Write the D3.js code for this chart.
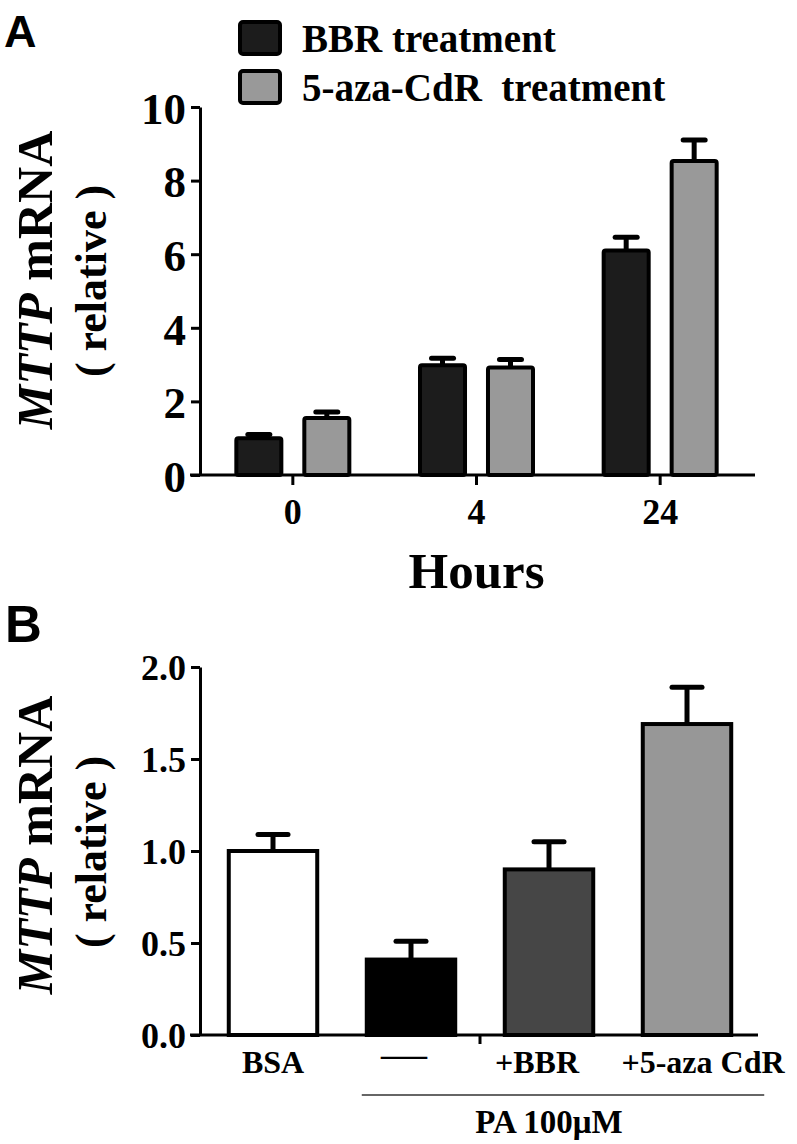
<!DOCTYPE html>
<html>
<head>
<meta charset="utf-8">
<script src="https://cdn.jsdelivr.net/npm/d3@7"></script>
<style>
  body { margin: 0; background: #fff; }
  svg text { font-family: "Liberation Serif", "Times New Roman", serif; font-weight: bold; fill: #000; }
  .panel-letter { font-family: "Liberation Sans", Arial, sans-serif !important; }
</style>
</head>
<body>
<div id="chart"></div>
<script>
// Panel A data
const hours = ["0", "4", "24"];
const seriesA = ["BBR treatment", "5-aza-CdR  treatment"];
const bbrValues = [1.0, 2.98, 6.1];
const bbrErrors = [0.1, 0.19, 0.36];
const azaValues = [1.55, 2.92, 8.53];
const azaErrors = [0.16, 0.22, 0.57];
const ticksA = [0, 2, 4, 6, 8, 10];

// Panel B data
const groupsB = ["BSA", "—", "+BBR", "+5-aza CdR"];
const valuesB = [1.0, 0.41, 0.90, 1.69];
const errorsB = [0.09, 0.10, 0.15, 0.20];
const ticksB = [0, 0.5, 1.0, 1.5, 2.0];

const colsA = ["#1c1c1c", "#999999"];
const colsB = ["#ffffff", "#000000", "#464646", "#979797"];
// small horizontal nudges of the B tick labels, as in the original figure
const labelShiftB = [0, -7, -12, 16];

const W = 797, H = 1144;
const svg = d3.select("#chart").append("svg")
  .attr("width", W).attr("height", H);

// ---------------- Panel A ----------------
const gA = svg.append("g");
const yA = d3.scaleLinear().domain([0, 10]).range([475, 107]);
const xA = d3.scaleBand().domain(hours).range([201, 752]);
const xInner = d3.scaleBand().domain([0, 1]).range([xA.bandwidth() / 2 - 58.5, xA.bandwidth() / 2 + 58.5]).paddingInner(0.279);

const dataA = [];
hours.forEach((h, i) => {
  dataA.push({h: h, s: 0, v: bbrValues[i], e: bbrErrors[i]});
  dataA.push({h: h, s: 1, v: azaValues[i], e: azaErrors[i]});
});

// error bars (upper only)
const errA = gA.append("g").selectAll("g").data(dataA).enter().append("g");
errA.append("line")
  .attr("x1", d => xA(d.h) + xInner(d.s) + xInner.bandwidth() / 2)
  .attr("x2", d => xA(d.h) + xInner(d.s) + xInner.bandwidth() / 2)
  .attr("y1", d => yA(d.v)).attr("y2", d => yA(d.v + d.e))
  .attr("stroke", "#000").attr("stroke-width", 5);
errA.append("line")
  .attr("x1", d => xA(d.h) + xInner(d.s) + xInner.bandwidth() / 2 - 11)
  .attr("x2", d => xA(d.h) + xInner(d.s) + xInner.bandwidth() / 2 + 11)
  .attr("y1", d => yA(d.v + d.e)).attr("y2", d => yA(d.v + d.e))
  .attr("stroke", "#000").attr("stroke-width", 5).attr("stroke-linecap", "round");

gA.append("g").selectAll("rect").data(dataA).enter().append("rect")
  .attr("x", d => xA(d.h) + xInner(d.s) + 2)
  .attr("y", d => yA(d.v))
  .attr("width", xInner.bandwidth() - 4)
  .attr("height", d => yA(0) - yA(d.v))
  .attr("fill", d => colsA[d.s])
  .attr("stroke", "#000").attr("stroke-width", 4)
  .attr("rx", 2);

// y axis A
const yAxisA = gA.append("g").attr("transform", "translate(200,0)")
  .call(d3.axisLeft(yA).tickValues(ticksA).tickSize(9).tickSizeOuter(0).tickPadding(5));
yAxisA.select(".domain").attr("stroke-width", 3);
yAxisA.selectAll(".tick line").attr("stroke-width", 3);
yAxisA.selectAll("text").style("font-size", "45px").attr("dy", "0.36em");

// x axis A
const xAxisA = gA.append("g").attr("transform", "translate(0,475)")
  .call(d3.axisBottom(xA).tickSize(10).tickSizeOuter(0).tickPadding(13));
xAxisA.select(".domain").remove();
xAxisA.selectAll(".tick line").attr("stroke-width", 3);
xAxisA.selectAll("text").style("font-size", "36px");
gA.append("line").attr("x1", 190).attr("x2", xA.range()[1] + 3)
  .attr("y1", yA(0)).attr("y2", yA(0))
  .attr("stroke", "#000").attr("stroke-width", 3);

gA.append("text").attr("x", (xA.range()[0] + xA.range()[1]) / 2).attr("y", 588)
  .attr("text-anchor", "middle").style("font-size", "51px").text("Hours");

// y label A
const labA = gA.append("text").attr("text-anchor", "middle")
  .attr("transform", "translate(52,280) rotate(-90)").style("font-size", "50px");
labA.append("tspan").style("font-style", "italic").text("MTTP");
labA.append("tspan").text(" mRNA");
gA.append("text").attr("text-anchor", "middle")
  .attr("transform", "translate(106,281) rotate(-90)").style("font-size", "44px")
  .text("( relative )");

// legend
const leg = gA.append("g").selectAll("g").data(seriesA).enter().append("g")
  .attr("transform", (d, i) => "translate(240," + (22 + i * 49) + ")");
leg.append("rect").attr("width", 40).attr("height", 32).attr("rx", 3)
  .attr("fill", (d, i) => colsA[i]).attr("stroke", "#000").attr("stroke-width", 4);
leg.append("text").attr("x", 62).attr("y", 30).style("font-size", "39px")
  .style("white-space", "pre").text(d => d);

gA.append("text").attr("class", "panel-letter").attr("x", 4).attr("y", 47)
  .style("font-size", "45px").text("A");

// ---------------- Panel B ----------------
const gB = svg.append("g");
const yB = d3.scaleLinear().domain([0, 2]).range([1035, 667]);
const xB = d3.scaleBand().domain(groupsB).range([204, 756]).paddingInner(0.33).paddingOuter(0.165);

const dataB = groupsB.map((g, i) => ({g: g, i: i, v: valuesB[i], e: errorsB[i]}));

const errB = gB.append("g").selectAll("g").data(dataB).enter().append("g");
errB.append("line")
  .attr("x1", d => xB(d.g) + xB.bandwidth() / 2).attr("x2", d => xB(d.g) + xB.bandwidth() / 2)
  .attr("y1", d => yB(d.v)).attr("y2", d => yB(d.v + d.e))
  .attr("stroke", "#000").attr("stroke-width", 5);
errB.append("line")
  .attr("x1", d => xB(d.g) + xB.bandwidth() / 2 - 15).attr("x2", d => xB(d.g) + xB.bandwidth() / 2 + 15)
  .attr("y1", d => yB(d.v + d.e)).attr("y2", d => yB(d.v + d.e))
  .attr("stroke", "#000").attr("stroke-width", 5).attr("stroke-linecap", "round");

gB.append("g").selectAll("rect").data(dataB).enter().append("rect")
  .attr("x", d => xB(d.g) + 2)
  .attr("y", d => yB(d.v))
  .attr("width", xB.bandwidth() - 4)
  .attr("height", d => yB(0) - yB(d.v))
  .attr("fill", d => colsB[d.i])
  .attr("stroke", "#000").attr("stroke-width", 4);

const yAxisB = gB.append("g").attr("transform", "translate(200,0)")
  .call(d3.axisLeft(yB).tickValues(ticksB).tickFormat(d3.format(".1f")).tickSize(9).tickSizeOuter(0).tickPadding(5));
yAxisB.select(".domain").attr("stroke-width", 3);
yAxisB.selectAll(".tick line").attr("stroke-width", 3);
yAxisB.selectAll("text").style("font-size", "36px").attr("dy", "0.36em");

const xAxisB = gB.append("g").attr("transform", "translate(0,1035)")
  .call(d3.axisBottom(xB).tickSize(0).tickPadding(38));
xAxisB.select(".domain").remove();
xAxisB.selectAll("text").style("font-size", "32px").attr("dy", 0)
  .attr("dx", d => labelShiftB[groupsB.indexOf(d)]);
xAxisB.selectAll("text").filter(d => d === "—")
  .style("font-size", "46px").style("font-weight", "normal").attr("dy", "-4");
gB.append("line").attr("x1", 190).attr("x2", xB.range()[1] + 2)
  .attr("y1", yB(0)).attr("y2", yB(0))
  .attr("stroke", "#000").attr("stroke-width", 3);
const midB = (xB.range()[0] + xB.range()[1]) / 2;
gB.append("line").attr("x1", midB).attr("x2", midB)
  .attr("y1", yB(0)).attr("y2", yB(0) + 9)
  .attr("stroke", "#000").attr("stroke-width", 3);

// PA group bracket
const paStart = xB(groupsB[1]) - 3, paEnd = xB(groupsB[3]) + xB.bandwidth() + 31;
gB.append("line").attr("x1", paStart).attr("x2", paEnd)
  .attr("y1", 1095).attr("y2", 1095)
  .attr("stroke", "#333").attr("stroke-width", 1.5);
gB.append("text").attr("x", xB(groupsB[2]) + xB.bandwidth() / 2).attr("y", 1133)
  .attr("text-anchor", "middle").style("font-size", "33px").text("PA 100μM");

const labB = gB.append("text").attr("text-anchor", "middle")
  .attr("transform", "translate(52,845) rotate(-90)").style("font-size", "50px");
labB.append("tspan").style("font-style", "italic").text("MTTP");
labB.append("tspan").text(" mRNA");
gB.append("text").attr("text-anchor", "middle")
  .attr("transform", "translate(106,852) rotate(-90)").style("font-size", "44px")
  .text("( relative )");

gB.append("text").attr("class", "panel-letter").attr("x", 5).attr("y", 642)
  .style("font-size", "51px").text("B");
</script>
</body>
</html>
